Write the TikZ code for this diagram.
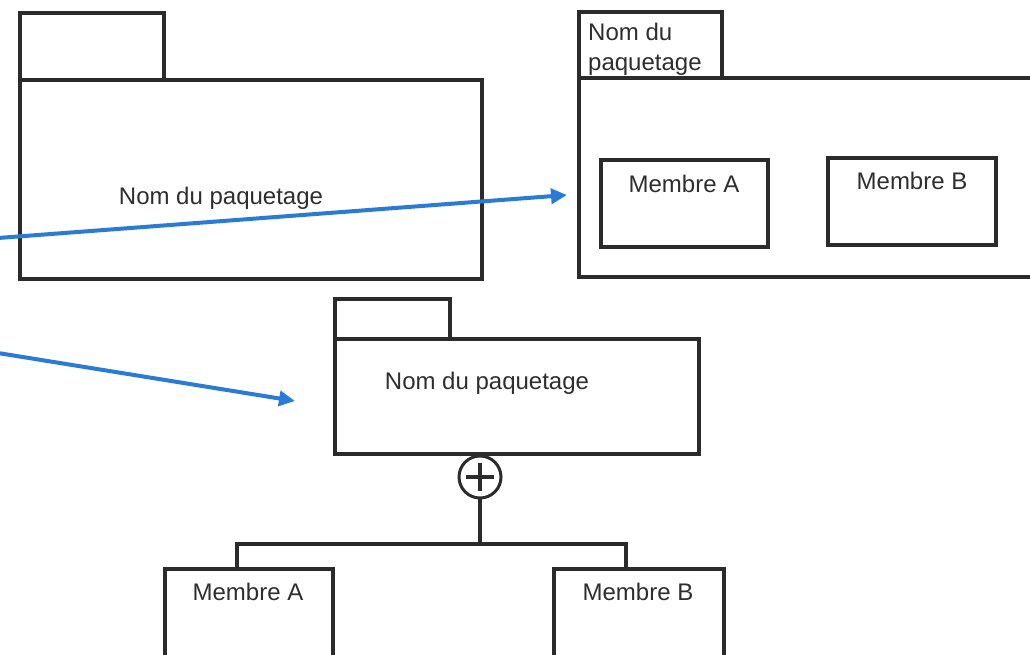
\documentclass[tikz,border=0pt]{standalone}
\usepackage{fontspec}
\setmainfont{Liberation Sans}
\usetikzlibrary{arrows.meta}
\definecolor{ink}{HTML}{2B2B2B}
\definecolor{txt}{HTML}{2E2E2E}
\definecolor{arrowblue}{HTML}{2A7BD6}
\tikzset{
  box/.style={draw=ink, line width=4.5pt, rectangle, inner sep=0pt, outer sep=0pt, anchor=north west, fill=white},
  thinbox/.style={draw=ink, line width=3.5pt, rectangle, inner sep=0pt, outer sep=0pt, anchor=north west, fill=white},
  lbl/.style={text=txt, font=\fontsize{24}{29}\selectfont, inner sep=0pt, anchor=base},
  lbll/.style={text=txt, font=\fontsize{24}{29}\selectfont, inner sep=0pt, anchor=base west},
  bluearrow/.style={draw=arrowblue, line width=4pt, -{Triangle[length=16pt,width=15pt]}},
  wire/.style={draw=ink, line width=3.5pt}
}
\begin{document}
\begin{tikzpicture}[x=1pt,y=-1pt]
\clip (0,0) rectangle (1030,654);
\fill[white] (0,0) rectangle (1030,654);

% left package
\node[box, minimum width=144pt, minimum height=67pt] (ltab) at (20,13) {};
\node[box, minimum width=462pt, minimum height=199pt] (lbody) at (20,80) {};
\node[lbl] (ltext) at (221,204) {Nom du paquetage};

% right package
\node[box, minimum width=143pt, minimum height=66pt] (rtab) at (579,12) {};
\node[box, minimum width=480pt, minimum height=199pt] (rbody) at (579,78) {};
\node[lbll] (rt1) at (588,40) {Nom du};
\node[lbll] (rt2) at (588,70) {paquetage};
\node[box, minimum width=167pt, minimum height=87pt] (rma) at (601,160) {};
\node[box, minimum width=168pt, minimum height=87pt] (rmb) at (828,158) {};
\node[lbl] at (684,192) {Membre A};
\node[lbl] at (912,189) {Membre B};

% middle package
\node[box, minimum width=115pt, minimum height=40pt] (mtab) at (335,299) {};
\node[box, minimum width=364pt, minimum height=115pt] (mbody) at (335,339) {};
\node[lbl] (mtext) at (487,389) {Nom du paquetage};

% nesting symbol
\node[circle, draw=ink, line width=3pt, minimum size=42pt, inner sep=0pt, outer sep=0pt, fill=white] (plus) at (480,477) {};
\draw[ink, line width=4pt] ([xshift=-14pt]plus.center) -- ([xshift=14pt]plus.center);
\draw[ink, line width=4pt] ([yshift=-14pt]plus.center) -- ([yshift=14pt]plus.center);

% members below
\node[thinbox, minimum width=168pt, minimum height=120pt] (ma) at (165,569) {};
\node[thinbox, minimum width=170pt, minimum height=120pt] (mb) at (554,569) {};
\node[lbl] at (248,600) {Membre A};
\node[lbl] at (638,600) {Membre B};

\coordinate (bar) at (480,544);
\draw[wire] (plus.south) -- (bar);
\draw[wire] (ma.north west -| 237,0) |- (bar) -| (mb.north west -| 626,0);

% blue arrows
\coordinate (s1) at (-2,238);
\coordinate (e1) at (567,195);
\coordinate (s2) at (-2,353);
\coordinate (e2) at (295,401);
\draw[bluearrow] (s1) -- (e1);
\draw[bluearrow] (s2) -- (e2);
\end{tikzpicture}
\end{document}
